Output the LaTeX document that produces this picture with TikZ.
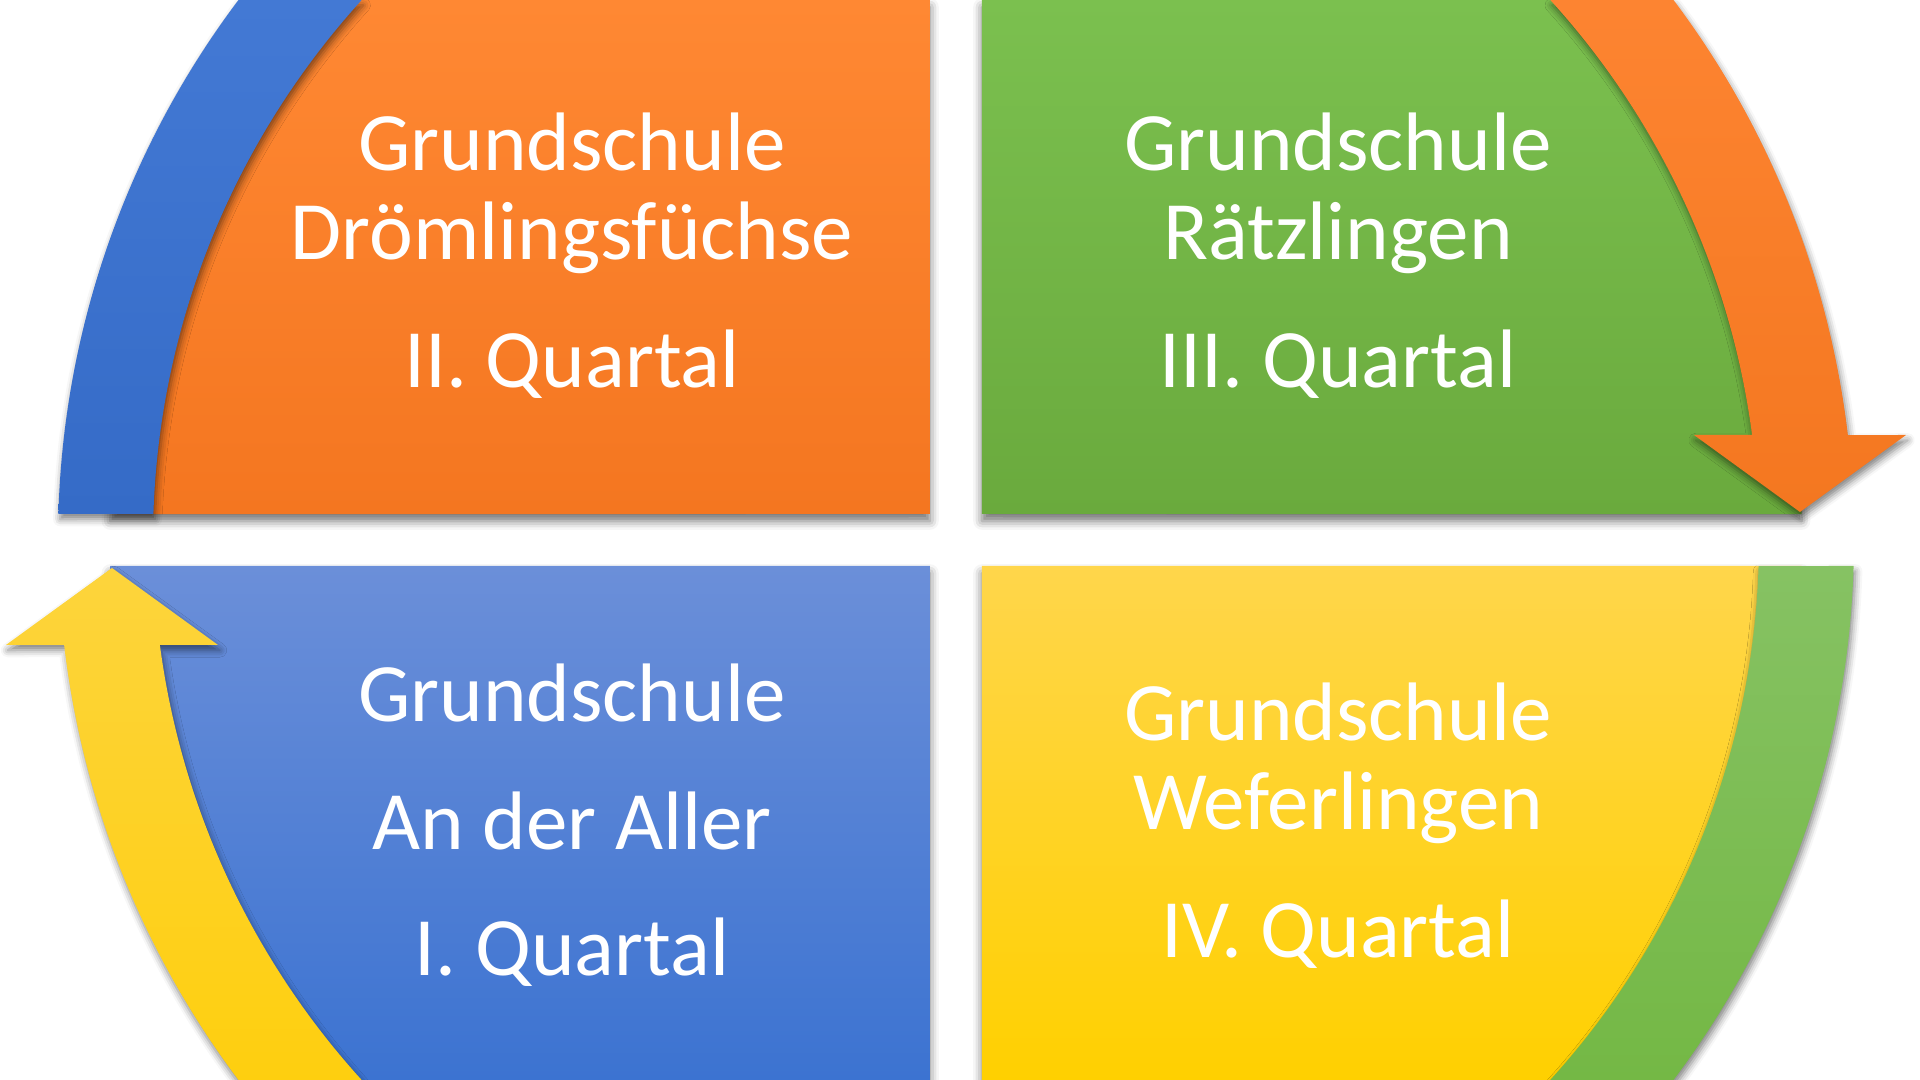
\documentclass[tikz,border=0pt]{standalone}
\usepackage{fontspec}
\setmainfont{Carlito}
\usepackage{xcolor}
\usepackage{tikz}
\usetikzlibrary{calc,shadows.blur}

\definecolor{orTop}{HTML}{FF8833}
\definecolor{orBot}{HTML}{F47620}
\definecolor{grTop}{HTML}{7BC04F}
\definecolor{grBot}{HTML}{6AAA3D}
\definecolor{blTop}{HTML}{6B8FD9}
\definecolor{blBot}{HTML}{3C73D1}
\definecolor{yeTop}{HTML}{FFD64B}
\definecolor{yeBot}{HTML}{FFD000}
\definecolor{bandBlTop}{HTML}{4379D4}
\definecolor{bandBlBot}{HTML}{356BC7}
\definecolor{bandOrTop}{HTML}{FD8431}
\definecolor{bandOrBot}{HTML}{F47720}
\definecolor{bandGrTop}{HTML}{86C263}
\definecolor{bandGrBot}{HTML}{74B845}
\definecolor{bandYeTop}{HTML}{FDD43C}
\definecolor{bandYeBot}{HTML}{FECF0F}

\begin{document}
\begin{tikzpicture}[x=0.01cm,y=0.01cm]
      \tikzstyle{quad} = [blur shadow={shadow xshift=0pt, shadow yshift=-2pt, shadow blur radius=2.5pt, shadow opacity=55}]
      \tikzstyle{band} = [blur shadow={shadow xshift=0.5pt, shadow yshift=-1.5pt, shadow blur radius=2pt, shadow opacity=50}]
      \tikzstyle{qtext} = [text=white, font=\fontsize{23.6}{28}\selectfont, anchor=base, inner sep=0pt]

      \useasboundingbox (-956,-540) rectangle (964,540);
      \clip (-956,-540) rectangle (964,540);

      % quadrants
      \path[quad, top color=orTop, bottom color=orBot] (-26,26) -- (-26,540) -- (-651.2,540)
        arc[start angle=140.33, end angle=178.24, radius=846] -- cycle;
      \path[quad, top color=grTop, bottom color=grBot] (26,26) -- (26,540) -- (651.2,540)
        arc[start angle=39.67, end angle=1.76, radius=846] -- cycle;
      \path[quad, top color=blTop, bottom color=blBot] (-26,-26) -- (-26,-540) -- (-651.2,-540)
        arc[start angle=219.67, end angle=181.76, radius=846] -- cycle;
      \path[quad, top color=yeTop, bottom color=yeBot] (26,-26) -- (26,-540) -- (651.2,-540)
        arc[start angle=-39.67, end angle=-1.76, radius=846] -- cycle;

      % bands and arrows
      \path[band, top color=bandBlTop, bottom color=bandBlBot]
        (-897.6,26) arc[start angle=178.34, end angle=143.03, radius=898] -- (-594.3,540)
        arc[start angle=137.74, end angle=178.14, radius=803] -- cycle;
      \path[band, top color=bandOrTop, bottom color=bandOrBot]
        (594.3,540) -- (717.5,540) arc[start angle=36.97, end angle=6.71, radius=898]
        -- (950,105) -- (844,28) -- (738,105) -- (796.1,105)
        arc[start angle=7.51, end angle=42.26, radius=803] -- cycle;
      \path[band, top color=bandGrTop, bottom color=bandGrBot]
        (897.6,-26) arc[start angle=-1.66, end angle=-36.97, radius=898] -- (594.3,-540)
        arc[start angle=-42.26, end angle=-1.86, radius=803] -- cycle;
      \path[band, top color=bandYeTop, bottom color=bandYeBot]
        (-594.3,-540) -- (-717.5,-540) arc[start angle=216.97, end angle=186.71, radius=898]
        -- (-950,-105) -- (-844,-28) -- (-738,-105) -- (-796.1,-105)
        arc[start angle=187.51, end angle=222.26, radius=803] -- cycle;

      % texts
      \node[qtext] (gsII) at (-384,369) {Grundschule};
      \node[qtext] (nameII) at (-384,280) {Drömlingsfüchse};
      \node[qtext] (qII) at (-384,152) {II. Quartal};

      \node[qtext] (gsIII) at (382,369) {Grundschule};
      \node[qtext] (nameIII) at (382,280) {Rätzlingen};
      \node[qtext] (qIII) at (382,152) {III. Quartal};

      \node[qtext] (gsI) at (-384,-182) {Grundschule};
      \node[qtext] (nameI) at (-384,-310) {An der Aller};
      \node[qtext] (qI) at (-384,-436) {I. Quartal};

      \node[qtext] (gsIV) at (382,-201) {Grundschule};
      \node[qtext] (nameIV) at (382,-290) {Weferlingen};
      \node[qtext] (qIV) at (382,-418) {IV. Quartal};
\end{tikzpicture}
\end{document}
